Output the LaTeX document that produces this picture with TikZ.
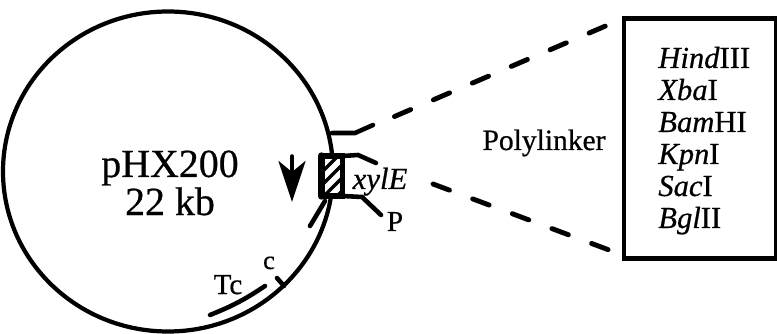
\documentclass[tikz,border=0pt]{standalone}
\usepackage{fontspec}
\setmainfont[FakeBold=0.6,AutoFakeBold=0.6]{Liberation Serif}
\usetikzlibrary{arrows.meta}
\tikzset{lbl/.style={draw=none, fill=none, inner sep=0pt, anchor=base, font=\fontsize{16.5}{16.5}\selectfont},
  bigl/.style={draw=none, inner sep=0pt, anchor=base, font=\fontsize{22.7}{22.7}\selectfont}}

\begin{document}
\begin{tikzpicture}[x=0.02cm, y=-0.02cm, line cap=round,
  rim/.style={line width=2.4pt},
  feat/.style={line width=2.6pt},
  zoomline/.style={line width=2.8pt, dash pattern=on 10pt off 14.1pt},
  sitebox/.style={draw, line width=3.2pt, fill=white, outer sep=0pt, minimum width=0.42cm,
    minimum height=0.8cm, inner sep=0pt},
  listbox/.style={draw, line width=2.8pt, fill=white, outer sep=0pt, minimum width=3.04cm,
    minimum height=4.8cm, inner sep=0pt}]
  \useasboundingbox (0,0) rectangle (777,334);
  % plasmid ring
  \draw[rim] (168,171.5) ellipse [x radius=165, y radius=160];
  % labels inside ring
  \node[bigl] (name) at (170,177) {pHX200};
  \node[bigl] (size) at (170,215) {22 kb};
  % direction arrow
  \coordinate (dtop) at (292,156);
  \coordinate (dtip) at (292,202);
  \draw[line width=2pt, -{Stealth[length=8.2mm, width=5.4mm, inset=2.2mm]}] (dtop) -- (dtip);
  % hatched insert
  \node[sitebox] (site) at (332,176) {};
  \begin{scope}
    \clip (site.south west) rectangle (site.north east);
    \foreach \h in {148,161,...,214}
      \draw[line width=1.9pt] (318,\h+15) -- (348,\h-15);
  \end{scope}
  \draw[line width=3.2pt] (site.south west) rectangle (site.north east);
  \draw[line width=4.2pt] (site.north west) -- (site.south west);
  % zoom lines to the box
  \coordinate (ztop) at (332,133);
  \coordinate (zmid) at (355,133);
  \coordinate (zend) at (373,125);
  \draw[feat] (ztop) -- (zmid) -- (zend);
  \coordinate (xa) at (358,155);
  \coordinate (xb) at (376,163);
  \draw[feat] (site.north east) -- (xa) -- (xb);
  \coordinate (pa) at (362,197);
  \coordinate (pb) at (381,215);
  \draw[feat] (site.south east) -- (pa) -- (pb);
  \coordinate (sa) at (325,201);
  \coordinate (sb) at (310,226);
  \draw[feat] (sa) -- (sb);
  % Tc gene and c mark
  \coordinate (ta) at (210,315);
  \coordinate (tb) at (265,286);
  \draw[feat] (ta) to[bend right=6] (tb);
  \coordinate (ca) at (277,278);
  \coordinate (cb) at (284,286);
  \draw[feat] (ca) -- (cb);
  \node[lbl] (tc) at (228,294) {Tc};
  \node[lbl, font=\fontsize{15}{15}\selectfont] (c) at (269,269) {c};
  \node[lbl, font=\fontsize{17.5}{17.5}\selectfont\itshape] (xyl) at (380,189) {xylE};
  \node[lbl] (p) at (395,231) {P};
  % polylinker box
  \node[listbox, anchor=north west] (list) at (624,18.5) {};
  \coordinate (ua) at (394.5,116.5);
  \coordinate (ub) at (605.5,26);
  \coordinate (la) at (433,184);
  \coordinate (lb) at (609,250);
  \draw[zoomline] (ua) -- (ub);
  \draw[zoomline] (la) -- (lb);
  \node[lbl, font=\fontsize{16.8}{16.8}\selectfont] (poly) at (544,150) {Polylinker};
  \foreach \name/\plain [count=\i] in {Hind/III, Xba/I, Bam/HI, Kpn/I, Sac/I, Bgl/II}
    \node[lbl, font=\fontsize{17.4}{17.4}\selectfont, anchor=base west] (enz\i) at (658,36+32*\i) {\textit{\name}\plain};
\end{tikzpicture}
\end{document}
